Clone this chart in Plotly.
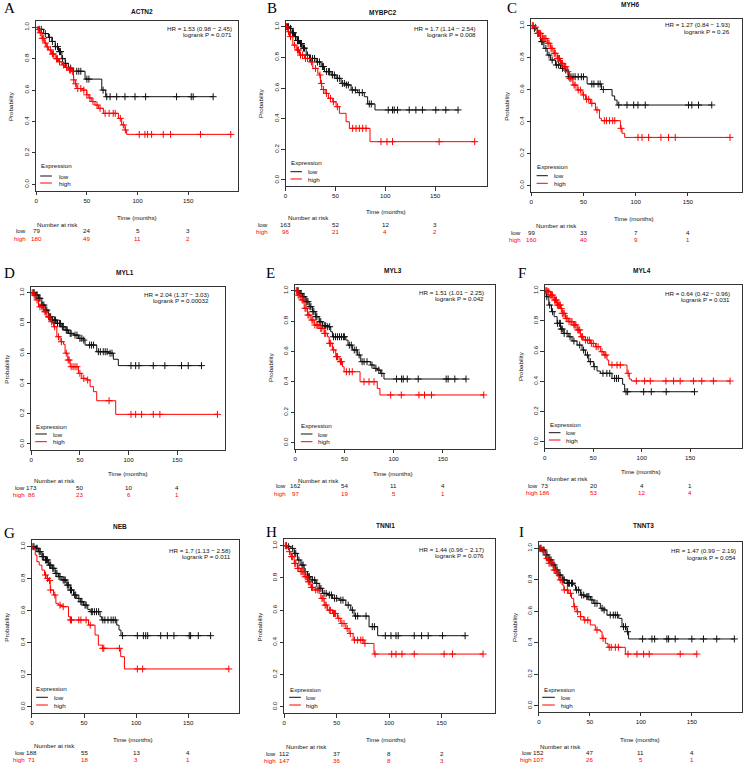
import plotly.graph_objects as go

W, H = 744, 766

# ---------------- DATA ----------------
GENES = ["ACTN2", "MYBPC2", "MYH6", "MYL1", "MYL3", "MYL4", "NEB", "TNNI1", "TNNT3"]
LETTERS = ["A", "B", "C", "D", "E", "F", "G", "H", "I"]
HR_TEXT = ["HR = 1.53 (0.98 − 2.45)", "HR = 1.7 (1.14 − 2.54)", "HR = 1.27 (0.84 − 1.93)",
           "HR = 2.04 (1.37 − 3.03)", "HR = 1.51 (1.01 − 2.25)", "HR = 0.64 (0.42 − 0.96)",
           "HR = 1.7 (1.13 − 2.58)", "HR = 1.44 (0.96 − 2.17)", "HR = 1.47 (0.99 − 2.19)"]
P_TEXT = ["logrank P = 0.071", "logrank P = 0.008", "logrank P = 0.26",
          "logrank P = 0.00032", "logrank P = 0.042", "logrank P = 0.031",
          "logrank P = 0.011", "logrank P = 0.076", "logrank P = 0.054"]
RISK_TIMES = [0, 50, 100, 150]
RISK_LOW = [[79, 24, 5, 3], [163, 52, 12, 3], [99, 33, 7, 4],
            [173, 50, 10, 4], [162, 54, 11, 4], [73, 20, 4, 1],
            [188, 55, 13, 4], [112, 37, 8, 2], [152, 47, 11, 4]]
RISK_HIGH = [[180, 49, 11, 2], [96, 21, 4, 2], [160, 40, 9, 1],
             [86, 23, 6, 1], [97, 19, 5, 1], [186, 53, 12, 4],
             [71, 18, 3, 1], [147, 36, 8, 3], [107, 26, 5, 1]]
X_TICKS = [0, 50, 100, 150]
Y_TICKS = [0.0, 0.2, 0.4, 0.6, 0.8, 1.0]
Y_TICK_TEXT = ["0.0", "0.2", "0.4", "0.6", "0.8", "1.0"]

# ACTN2
ACTN2_low_t = [2.3, 7.2, 12.1, 15.4, 18.7, 22.0, 25.3, 28.6, 31.8, 36.8, 48.2, 64.7, 68.6]
ACTN2_low_s = [0.987, 0.96, 0.936, 0.91, 0.877, 0.845, 0.80, 0.77, 0.74, 0.72, 0.67, 0.60, 0.558]
ACTN2_low_c = [3, 5, 9, 13, 16, 19, 21, 23, 24, 26, 29, 34, 40, 42, 44, 50, 52, 66, 69.6, 72.9,
               79.4, 87.6, 97.5, 108, 138.5, 153, 154.9, 174.6]
ACTN2_high_t = [1.5, 3, 5.6, 8, 10, 12.1, 15, 18.7, 22, 25.3, 28, 31.8, 35.1, 36.8, 38.5, 40, 45,
                49.9, 52, 54.8, 58, 61.4, 66.3, 81.1, 84.3, 87.6, 89.3]
ACTN2_high_s = [0.985, 0.965, 0.93, 0.9, 0.875, 0.856, 0.83, 0.80, 0.78, 0.76, 0.745, 0.728, 0.718,
                0.665, 0.64, 0.61, 0.60, 0.57, 0.55, 0.527, 0.505, 0.484, 0.452, 0.42, 0.378, 0.346, 0.318]
ACTN2_high_c = [2, 4, 6, 7, 9, 11, 14, 16, 17, 20, 21, 23, 27, 30, 33, 34, 36, 37, 39, 41, 44, 47,
                50, 53, 56, 60, 63, 68, 72, 76, 78, 83, 86, 88, 101.7, 107.3, 109.9, 113.9, 125.4,
                132.6, 162.1, 192]

# MYBPC2
MYBPC2_low_t = [4, 6.5, 9, 11.5, 14, 17.3, 20.7, 24, 30.7, 35.7, 39, 45.7, 50.7, 55.7, 60.7, 65.7,
                72.3, 79, 82.3, 89.7]
MYBPC2_low_s = [0.989, 0.96, 0.935, 0.91, 0.89, 0.86, 0.815, 0.793, 0.77, 0.74, 0.707, 0.685, 0.663,
                0.63, 0.62, 0.587, 0.57, 0.543, 0.496, 0.457]
MYBPC2_low_c = [2, 3, 5, 7, 8, 10, 12, 13, 15, 16, 18, 19, 22, 25, 27, 29, 32, 34, 37, 38, 41, 43, 44,
                47, 49, 52, 54, 57, 59, 61, 63, 67, 70, 74, 77, 84, 86, 103, 107.3, 109, 112.3, 124,
                130.7, 137.3, 150.7, 160.7, 173]
MYBPC2_high_t = [2.3, 4, 7.3, 10.7, 14, 19, 24, 27.3, 32.3, 34, 35, 36.3, 39.7, 43, 47.3, 50.7, 54,
                 60.7, 64, 84.7]
MYBPC2_high_s = [0.967, 0.935, 0.88, 0.848, 0.815, 0.793, 0.77, 0.728, 0.696, 0.685, 0.63, 0.59,
                 0.565, 0.533, 0.51, 0.478, 0.435, 0.38, 0.337, 0.25]
MYBPC2_high_c = [1, 3, 5, 9, 12, 13, 15, 17, 20, 22, 26, 30, 34.5, 36, 38, 41, 45, 48, 52, 67.3, 70.7,
                 74, 77.3, 80.7, 95.7, 101.7, 107.3, 154, 189.7]

# MYH6
MYH6_low_t = [2.5, 5.7, 8.9, 12.1, 15.3, 18.5, 23.2, 28, 32.8, 35.4, 53.5, 67.2, 77.4, 79.9, 82.2]
MYH6_low_s = [0.983, 0.952, 0.9, 0.858, 0.816, 0.785, 0.754, 0.733, 0.722, 0.68, 0.635, 0.6, 0.56,
              0.534, 0.503]
MYH6_low_c = [3, 7, 10, 11, 14, 17, 20, 24, 26, 30, 33, 36, 38, 40, 42, 45, 48, 50, 58, 60, 64, 66, 69,
              83.8, 91.7, 98.1, 102.2, 109.2, 150.6, 153.8, 160.2, 172.9]
MYH6_high_t = [2.5, 5.7, 10.5, 15.3, 18.5, 21.7, 24.8, 28, 31.2, 34.4, 36.6, 39.8, 43.9, 48.7, 51.9,
               56.7, 61.5, 65.3, 67.2, 85.4, 86.9, 89.5]
MYH6_high_s = [0.99, 0.952, 0.92, 0.89, 0.858, 0.827, 0.795, 0.764, 0.743, 0.712, 0.67, 0.628, 0.597,
               0.566, 0.539, 0.514, 0.472, 0.42, 0.405, 0.357, 0.326, 0.3]
MYH6_high_c = [1, 2, 4, 6, 7, 8, 9, 11, 12, 13, 14, 16, 17, 19, 20, 22, 23, 25, 26, 27, 29, 30, 32,
               33, 35, 37, 38, 41, 42, 45, 47, 50, 53, 55, 58, 63, 70, 72, 75, 78, 80, 86, 102.2,
               106.1, 112.4, 124.2, 131.5, 137.9, 190.4]

# MYL1
MYL1_low_t = [4.1, 7.5, 10.9, 14.3, 17.8, 21.2, 26.3, 31.4, 34.8, 38.3, 43.4, 48.5, 53.6, 55.3, 67.3,
              79.3, 84.4, 89.5]
MYL1_low_s = [0.985, 0.963, 0.918, 0.885, 0.841, 0.819, 0.797, 0.775, 0.753, 0.731, 0.72, 0.698,
              0.687, 0.654, 0.61, 0.6, 0.56, 0.518]
MYL1_low_c = [2, 3, 5, 6, 8, 9, 11, 12, 13, 15, 16, 18, 19, 20, 22, 24, 25, 27, 29, 30, 32, 33, 36,
              37, 40, 41, 45, 47, 50, 52, 54, 60, 62, 64, 69, 71, 74, 76, 78, 81, 83, 102.5, 107.3,
              110.7, 125.4, 137.3, 154.4, 161.3, 174.9]
MYL1_high_t = [2.4, 4.1, 7.5, 12.6, 16.1, 19.5, 22.9, 26.3, 29.7, 33.1, 34.8, 37.6, 40, 48.5, 51.9,
               57.1, 60.5, 63.9, 67.3, 86.8]
MYL1_high_s = [0.985, 0.952, 0.907, 0.874, 0.841, 0.808, 0.775, 0.709, 0.676, 0.659, 0.6, 0.555,
               0.511, 0.467, 0.434, 0.423, 0.379, 0.346, 0.286, 0.196]
MYL1_high_c = [1, 3, 6, 9, 11, 14, 15, 18, 21, 24, 28, 31, 36, 38, 39, 41, 43, 45, 47, 50, 54, 58, 80,
               102.5, 107.3, 113.4, 125.4, 132.2, 191.3]

# MYL3
MYL3_low_t = [4.1, 7.4, 10.8, 14.2, 17.6, 20.9, 24.3, 27.7, 32.8, 36.1, 37.8, 51.4, 53.7, 58.1, 63.2,
              66.6, 76.7, 80.1, 83.4, 86.8, 90.2]
MYL3_low_s = [0.982, 0.96, 0.928, 0.895, 0.862, 0.829, 0.796, 0.77, 0.763, 0.73, 0.697, 0.675, 0.642,
              0.61, 0.577, 0.533, 0.511, 0.489, 0.478, 0.456, 0.419]
MYL3_low_c = [2, 3, 5, 6, 8, 9, 11, 12, 13, 15, 16, 18, 19, 21, 22, 25, 26, 28, 30, 31, 33, 35, 39, 41,
              43, 45, 47, 49, 50, 55, 57, 60, 62, 65, 68, 70, 73, 78, 82, 85, 88, 103, 108.1, 109.8,
              113.9, 125, 153.4, 155.4, 162.2, 173.6]
MYL3_high_t = [2.4, 5.7, 9.1, 12.5, 15.9, 19.3, 24.3, 29.4, 32.8, 34.5, 37.8, 41.2, 44.6, 48, 49.7,
               65.9, 83.4, 86.1]
MYL3_high_s = [0.971, 0.939, 0.884, 0.84, 0.807, 0.774, 0.752, 0.719, 0.697, 0.654, 0.61, 0.566,
               0.533, 0.5, 0.467, 0.401, 0.357, 0.314]
MYL3_high_c = [1, 3, 4, 7, 8, 10, 11, 13, 14, 17, 18, 20, 22, 23, 26, 27, 30, 31, 35, 36, 39, 42, 43,
               46, 47, 52, 55, 58, 69.9, 75, 80.1, 97, 107.8, 125.7, 131.4, 138.5, 191.6]

# MYL4
MYL4_low_t = [1.4, 4.1, 6.9, 9.6, 12.7, 16.1, 19.6, 24.7, 28.1, 33.3, 38.4, 41.9, 45.3, 50.5, 53.9,
              57.3, 69.3, 80.3, 82.4]
MYL4_low_s = [0.96, 0.905, 0.861, 0.828, 0.784, 0.746, 0.717, 0.695, 0.667, 0.64, 0.607, 0.574, 0.53,
              0.497, 0.468, 0.453, 0.419, 0.38, 0.331]
MYL4_low_c = [2, 5, 8, 13, 15, 16, 17, 18, 20, 23, 26, 30, 36, 40, 44, 47, 51, 60, 64, 67, 72, 74, 76,
              83.8, 85.5, 102, 109.9, 125.3, 154.5]
MYL4_high_t = [2.4, 5.8, 9.3, 12.7, 16.1, 17.9, 21.3, 24.7, 29.9, 33.3, 36.7, 40.2, 47, 52.2, 57.3,
               60.8, 64.2, 65.9, 84.8, 87.2, 89.3]
MYL4_high_s = [0.993, 0.971, 0.938, 0.905, 0.883, 0.85, 0.817, 0.795, 0.773, 0.74, 0.695, 0.673,
               0.651, 0.629, 0.596, 0.574, 0.541, 0.508, 0.453, 0.415, 0.402]
MYL4_high_c = [1, 2, 3, 4, 6, 7, 8, 10, 11, 12, 13, 14, 15, 16, 17, 18, 19, 20, 22, 23, 25, 27, 28,
               30, 31, 32, 34, 35, 36, 38, 39, 42, 44, 46, 48, 50, 53, 55, 59, 62, 63, 69.3, 74.5,
               77.9, 86, 94.4, 103, 108.8, 125, 132.9, 139.7, 153.4, 162, 174, 191.2]

# NEB
NEB_low_t = [3.2, 6.4, 9.6, 12.8, 16, 19.2, 22.3, 25.5, 28.7, 33.5, 36.7, 39.9, 43.1, 46.3, 49.5,
             53.6, 55.9, 65.4, 67, 81.4, 83.6, 85.5]
NEB_low_s = [0.99, 0.969, 0.938, 0.917, 0.885, 0.865, 0.833, 0.813, 0.792, 0.76, 0.729, 0.698, 0.677,
             0.656, 0.635, 0.608, 0.594, 0.5625, 0.542, 0.51, 0.479, 0.444]
NEB_low_c = [1, 2, 4, 5, 7, 8, 10, 11, 13, 14, 15, 17, 18, 20, 21, 23, 24, 26, 27, 30, 31, 32, 34, 35,
             37, 38, 41, 42, 45, 47, 48, 51, 52, 57, 58, 60, 62, 64, 68, 70, 73, 76, 78, 80, 87,
             101.2, 107, 109.2, 111.1, 123.6, 130, 136.3, 151, 152.3, 159.7, 171.5]
NEB_high_t = [1.6, 3.2, 4.8, 7, 9.6, 12.1, 14.4, 16, 17.6, 20.7, 23, 25.5, 28.7, 35.1, 36.7, 54.3,
              60.6, 63.8, 67.7, 85.2, 88.8]
NEB_high_s = [0.99, 0.948, 0.906, 0.885, 0.854, 0.823, 0.802, 0.788, 0.729, 0.698, 0.646, 0.635,
              0.625, 0.5625, 0.542, 0.51, 0.448, 0.385, 0.365, 0.3125, 0.236]
NEB_high_c = [13, 15, 17, 18, 22, 27, 30, 37, 38, 45, 47, 52, 56, 68, 69, 84, 101.2, 106.3, 189]

# TNNI1
TNNI1_low_t = [3.2, 6.3, 9.5, 12.7, 15.9, 19, 22.2, 25.4, 30.1, 33.3, 36.5, 41.2, 46, 52.3, 58.7,
               63.4, 66.6, 80.9, 89.1]
TNNI1_low_s = [0.994, 0.983, 0.952, 0.911, 0.88, 0.839, 0.807, 0.787, 0.766, 0.735, 0.704, 0.694,
               0.673, 0.662, 0.631, 0.6, 0.563, 0.497, 0.441]
TNNI1_low_c = [2, 4, 8, 10, 11, 14, 17, 18, 20, 23, 24, 27, 29, 31, 34, 35, 38, 40, 43, 45, 48, 50,
               54, 56, 61, 65, 68, 70, 78, 84, 86, 96.4, 101.8, 106.6, 108.7, 124, 131, 137.3, 151,
               172.5]
TNNI1_high_t = [3.2, 4.8, 6.3, 9.5, 12.7, 15.9, 19, 22.2, 25.4, 28.5, 33.3, 34.9, 38.1, 41.2, 46,
                50.7, 53.9, 58.7, 61.8, 65.7, 76.1, 85.6]
TNNI1_high_s = [0.983, 0.963, 0.932, 0.89, 0.859, 0.839, 0.807, 0.776, 0.741, 0.725, 0.704, 0.673,
                0.631, 0.6, 0.579, 0.549, 0.517, 0.486, 0.455, 0.414, 0.393, 0.327]
TNNI1_high_c = [1, 2, 5, 7, 8, 10, 11, 13, 14, 16, 17, 18, 20, 21, 23, 24, 26, 27, 30, 32, 36, 37,
                39, 40, 43, 44, 47, 48, 49, 52, 55, 57, 60, 63, 67, 70, 73, 75, 77, 86.6, 102.5,
                106.6, 112.3, 124, 152.5, 160.5, 189.6]

# TNNT3
TNNT3_low_t = [3.3, 6.5, 9.8, 13, 16.3, 19.6, 22.8, 27.7, 34.2, 35.9, 40.8, 45.6, 50.5, 53.8, 60.3,
               63, 66.8, 78.3, 81.5, 86.4, 88]
TNNT3_low_s = [0.989, 0.958, 0.926, 0.894, 0.862, 0.83, 0.799, 0.778, 0.767, 0.735, 0.703, 0.693,
               0.672, 0.65, 0.619, 0.608, 0.576, 0.555, 0.502, 0.47, 0.424]
TNNT3_low_c = [1, 2, 4, 5, 7, 8, 10, 11, 12, 14, 15, 17, 18, 20, 21, 23, 24, 25, 28, 29, 30, 32, 33,
               37, 39, 42, 44, 47, 48, 49, 52, 55, 57, 62, 64, 70, 73, 75, 77, 83, 85, 87, 101.7,
               110.9, 113.5, 125.5, 127.2, 133.7, 150, 161.4, 174.4, 191.7]
TNNT3_high_t = [3.3, 6.5, 9.8, 14.7, 17.9, 19.6, 22.8, 24.5, 29.3, 32, 34.2, 36.5, 40.8, 44, 50.5,
                55.4, 60.3, 62, 65.2, 67.8, 84.8]
TNNT3_high_s = [0.979, 0.936, 0.905, 0.862, 0.841, 0.799, 0.767, 0.735, 0.714, 0.682, 0.629, 0.597,
                0.566, 0.544, 0.513, 0.481, 0.47, 0.428, 0.396, 0.371, 0.328]
TNNT3_high_c = [2, 5, 8, 10, 12, 13, 15, 16, 18, 21, 25, 28, 31, 35, 38, 41, 45, 48, 57, 63, 69, 71,
                75, 78, 87.4, 96.2, 102.7, 108.2, 138.6, 154.9]

CURVES = {
    "ACTN2": (ACTN2_low_t, ACTN2_low_s, ACTN2_low_c, ACTN2_high_t, ACTN2_high_s, ACTN2_high_c),
    "MYBPC2": (MYBPC2_low_t, MYBPC2_low_s, MYBPC2_low_c, MYBPC2_high_t, MYBPC2_high_s, MYBPC2_high_c),
    "MYH6": (MYH6_low_t, MYH6_low_s, MYH6_low_c, MYH6_high_t, MYH6_high_s, MYH6_high_c),
    "MYL1": (MYL1_low_t, MYL1_low_s, MYL1_low_c, MYL1_high_t, MYL1_high_s, MYL1_high_c),
    "MYL3": (MYL3_low_t, MYL3_low_s, MYL3_low_c, MYL3_high_t, MYL3_high_s, MYL3_high_c),
    "MYL4": (MYL4_low_t, MYL4_low_s, MYL4_low_c, MYL4_high_t, MYL4_high_s, MYL4_high_c),
    "NEB": (NEB_low_t, NEB_low_s, NEB_low_c, NEB_high_t, NEB_high_s, NEB_high_c),
    "TNNI1": (TNNI1_low_t, TNNI1_low_s, TNNI1_low_c, TNNI1_high_t, TNNI1_high_s, TNNI1_high_c),
    "TNNT3": (TNNT3_low_t, TNNT3_low_s, TNNT3_low_c, TNNT3_high_t, TNNT3_high_s, TNNT3_high_c),
}

# ---------------- LAYOUT GEOMETRY (pixels) ----------------
BOX_L = [34.3, 284.3, 530.7, 29.3, 294.0, 544.3, 30.0, 283.0, 538.3]
X150 = [186.7, 434.3, 687.7, 175.7, 442.0, 690.0, 186.7, 440.7, 691.7]
BOX_R = [236.7, 486.7, 741.7, 224.0, 494.7, 741.7, 237.3, 494.7, 741.7]
Y1PX = [27.3, 26.7, 25.7, 292.7, 290.7, 290.7, 546.7, 545.7, 548.3]
Y0PX = [184.3, 180.0, 185.3, 444.0, 442.7, 441.7, 706.7, 706.7, 705.7]
LET_X = [7.5, 270.5, 511, 7.5, 269.7, 521.7, 7.5, 270.5, 520.5]
LET_Y = [8, 8, 8, 273.3, 273.3, 273.3, 533.3, 531.7, 531.7]
TIT_X = [140, 381.7, 630, 123.3, 392, 641.7, 118.3, 384.7, 643.3]
TIT_Y = [11.7, 12.7, 4.5, 272.3, 270, 270, 526.7, 525, 525]
HR_X = [232.3, 477.7, 732.3, 210, 485.3, 732.3, 231.7, 485.3, 737.7]
HR_Y = [28.3, 28.3, 25, 294.3, 292.3, 293.3, 550, 549, 550.7]
EXP_X = [36.7, 287.3, 534, 31.7, 298, 547.3, 32.3, 286.3, 541]
EXP_Y = [166, 162.7, 166.7, 426, 425.7, 424.3, 688.3, 689, 689]
LL0 = [38.3, 289.3, 536, 33.3, 299.7, 548.3, 34.3, 288, 541.7]
LL1 = [50, 300.7, 547.3, 45, 311.3, 560, 46, 299.7, 554.3]
LTX = [55, 305, 551.7, 49.3, 314.7, 563.3, 50, 303, 558.3]
LEG_LOW_Y = [176, 171.7, 175.7, 434, 434, 432.7, 697.3, 697.3, 697.3]
LEG_HIGH_Y = [183, 179, 183.3, 441.7, 441.7, 440, 705, 705, 705]
TIME_X = [135, 385, 633.3, 126.7, 392, 640.7, 131.7, 384.7, 640]
TIME_Y = [217, 211, 218.3, 473.3, 473.3, 471.7, 739, 739, 739]
NAR_X = [33.3, 284.3, 533.3, 30, 294.7, 544.3, 30, 283, 537.7]
NAR_Y = [224, 218, 225.7, 480.7, 480, 479, 745.7, 746.7, 746]
RL_Y = [230, 225, 232.3, 487.3, 486, 485, 752.3, 753.3, 752.7]
RH_Y = [239, 232, 239.3, 494.3, 493.7, 492.3, 759, 760, 759.3]
ROW_RX = [26.5, 269, 522.5, 25.0, 287, 539, 25.0, 276.3, 533.0]

FONT = "Liberation Sans, Arial, sans-serif"
SERIF = "Liberation Serif, Times New Roman, serif"
FS = 6.2
BLACK = "#111111"
RED = "#FF0000"


def px(x):
    return x / W


def py(y):
    return 1 - y / H


def surv_at(ts, ss, c):
    v = 1.0
    for t, s in zip(ts, ss):
        if t <= c:
            v = s
    return v


fig = go.Figure()
annotations = []
shapes = []
layout_axes = {}

for i, gene in enumerate(GENES):
    n = i + 1
    xa = "xaxis" if n == 1 else f"xaxis{n}"
    ya = "yaxis" if n == 1 else f"yaxis{n}"
    xr = "x" if n == 1 else f"x{n}"
    yr = "y" if n == 1 else f"y{n}"
    L, R, x150 = BOX_L[i], BOX_R[i], X150[i]
    y1, y0 = Y1PX[i], Y0PX[i]
    span = y0 - y1
    T = y1 - 0.04 * span
    B = y0 + 0.04 * span
    xmax = (R - L) / (x150 - L) * 150.0

    axis_common = dict(showline=True, linecolor="#333333", linewidth=1, mirror=True,
                       ticks="outside", ticklen=3.5, tickwidth=1, tickcolor="#333333",
                       showgrid=False, zeroline=False, fixedrange=True,
                       tickfont=dict(family=FONT, size=FS, color="#111111"))
    layout_axes[xa] = dict(axis_common, domain=[px(L), px(R)], range=[0, xmax],
                           tickvals=X_TICKS, ticktext=[str(v) for v in X_TICKS],
                           anchor=yr)
    layout_axes[ya] = dict(axis_common, domain=[py(B), py(T)], range=[-0.04, 1.04],
                           tickvals=Y_TICKS, ticktext=Y_TICK_TEXT, tickangle=-90,
                           anchor=xr)

    lt, ls, lc, ht, hs, hc = CURVES[gene]
    for ts, ss, cs, col in [(lt, ls, lc, BLACK), (ht, hs, hc, RED)]:
        end = max(max(cs), max(ts))
        fig.add_trace(go.Scatter(x=[0] + ts + [end], y=[1.0] + ss + [ss[-1]],
                                 mode="lines", line=dict(shape="hv", color=col, width=1),
                                 xaxis=xr, yaxis=yr, hoverinfo="skip"))
        fig.add_trace(go.Scatter(x=cs, y=[surv_at(ts, ss, c) for c in cs], mode="markers",
                                 marker=dict(symbol="cross-thin-open", size=5,
                                             line=dict(width=1, color=col), color=col),
                                 xaxis=xr, yaxis=yr, hoverinfo="skip"))

    def ann(text, x, y, xanchor="center", size=FS, color="#111111", family=FONT,
            textangle=0, xref="paper"):
        annotations.append(dict(text=text, x=x, y=py(y), xref=xref, yref="paper",
                                xanchor=xanchor, yanchor="middle", showarrow=False,
                                textangle=textangle,
                                font=dict(family=family, size=size, color=color)))

    ann(LETTERS[i], px(LET_X[i]), LET_Y[i], size=15, family=SERIF, color="#000000")
    ann(f"<b>{gene}</b>", px(TIT_X[i]), TIT_Y[i], size=6.5)
    ann(HR_TEXT[i], px(HR_X[i]), HR_Y[i], xanchor="right")
    ann(P_TEXT[i], px(HR_X[i]), HR_Y[i] + 6.6, xanchor="right")
    ann("Probability", px(L - 25), (y1 + y0) / 2, textangle=-90)
    ann("Time (months)", px(TIME_X[i]), TIME_Y[i])
    ann("Expression", px(EXP_X[i]), EXP_Y[i], xanchor="left")
    ann("low", px(LTX[i]), LEG_LOW_Y[i], xanchor="left")
    ann("high", px(LTX[i]), LEG_HIGH_Y[i], xanchor="left")
    for yy, col in [(LEG_LOW_Y[i], BLACK), (LEG_HIGH_Y[i], RED)]:
        shapes.append(dict(type="line", xref="paper", yref="paper",
                           x0=px(LL0[i]), x1=px(LL1[i]), y0=py(yy), y1=py(yy),
                           line=dict(color=col, width=1)))
    ann("Number at risk", px(NAR_X[i]), NAR_Y[i], xanchor="left")
    ann("low", px(ROW_RX[i]), RL_Y[i], xanchor="right")
    ann("high", px(ROW_RX[i]), RH_Y[i], xanchor="right", color=RED)
    for tt, vl, vh in zip(RISK_TIMES, RISK_LOW[i], RISK_HIGH[i]):
        ann(str(vl), tt, RL_Y[i], xref=xr)
        ann(str(vh), tt, RH_Y[i], xref=xr, color=RED)

fig.update_layout(width=W, height=H, autosize=False,
                  margin=dict(l=0, r=0, t=0, b=0, pad=0),
                  paper_bgcolor="white", plot_bgcolor="white",
                  showlegend=False, annotations=annotations, shapes=shapes,
                  hovermode=False,
                  font=dict(family=FONT, size=FS), **layout_axes)

fig.write_html("out.html",
               config={"displayModeBar": False, "staticPlot": True},
               post_script="document.body.style.margin='0px';document.body.style.padding='0px';"
                           "document.body.style.overflow='hidden';")
